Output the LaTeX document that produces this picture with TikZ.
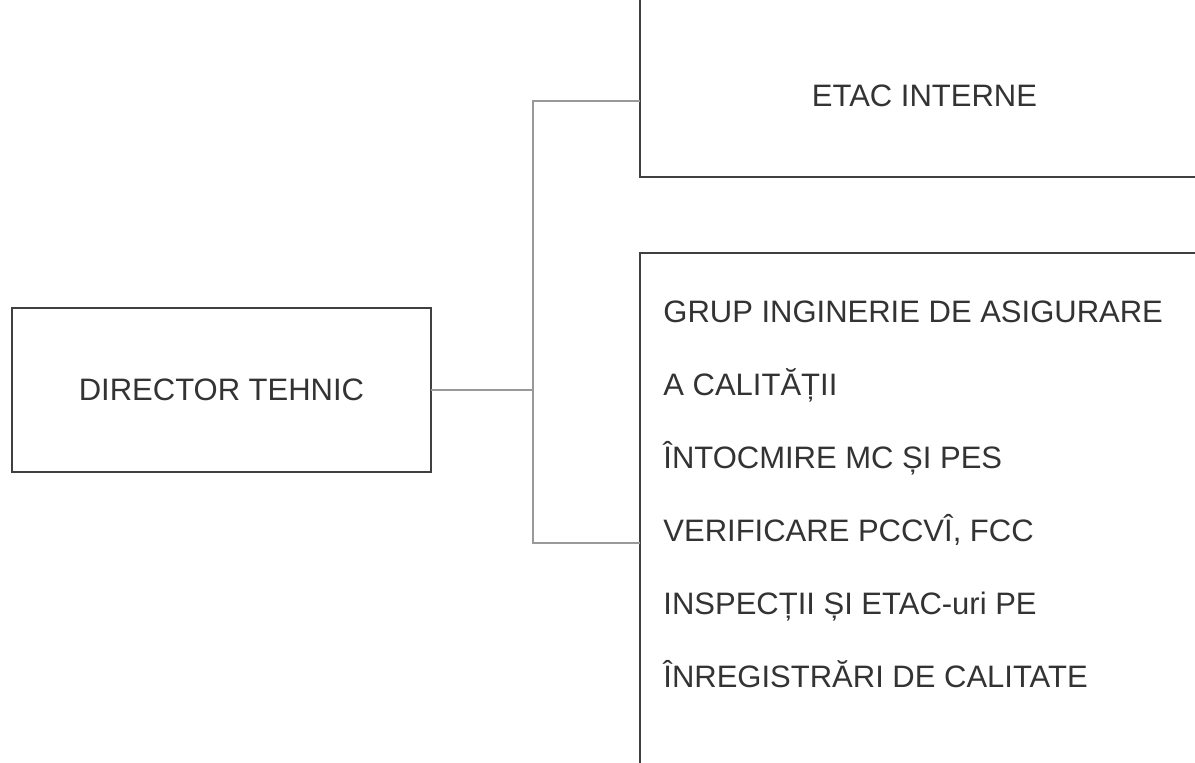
\documentclass[tikz,border=0pt]{standalone}
\usepackage{fontspec}
\setmainfont{Liberation Sans}
\usepackage{xcolor}
\usepackage{tikz}
\usetikzlibrary{positioning,calc}

\begin{document}
\begin{tikzpicture}[
  x=0.5pt,y=-0.5pt,
  font=\fontsize{15.5}{18}\selectfont,
  box/.style={draw=black!75,line width=1pt,rectangle,outer sep=0pt,inner sep=0pt,
              text=black!80},
  item/.style={anchor=base west,inner sep=0pt,text=black!80},
  link/.style={draw=black!40,line width=0.6pt}]

\useasboundingbox (0,0) rectangle (1195,762);
\clip (0,0) rectangle (1195,762);
\fill[white] (0,0) rectangle (1195,762);

% ---- nodes ------------------------------------------------------------
\node[box,minimum width=209.5pt,minimum height=82pt] (dir) at (221.5,390) {DIRECTOR TEHNIC};
\node[box,minimum width=284.5pt,minimum height=108.5pt] (etac) at (924.5,68.5) {};
\node[inner sep=0pt,text=black!80] (etacT) at (924.5,96) {ETAC INTERNE};
\node[box,minimum width=284.5pt,minimum height=273.5pt] (grup) at (924.5,526.5) {};

% ---- box contents -----------------------------------------------------
\foreach \t [count=\i from 0] in {GRUP INGINERIE DE ASIGURARE, A CALITĂȚII,
    ÎNTOCMIRE MC ȘI PES, {VERIFICARE PCCVÎ, FCC}, INSPECȚII ȘI ETAC-uri PE,
    ÎNREGISTRĂRI DE CALITATE}
  \node[item] (g\i) at (663,322+73*\i) {\t};

% ---- edges ------------------------------------------------------------
\coordinate (jtop) at (533,101);
\coordinate (jbot) at (533,543);
\draw[link] (dir.east) -- (dir.east -| jtop);
\draw[link] (etac.west |- jtop) -- (jtop) -- (jbot) -- (grup.west |- jbot);
\end{tikzpicture}
\end{document}
